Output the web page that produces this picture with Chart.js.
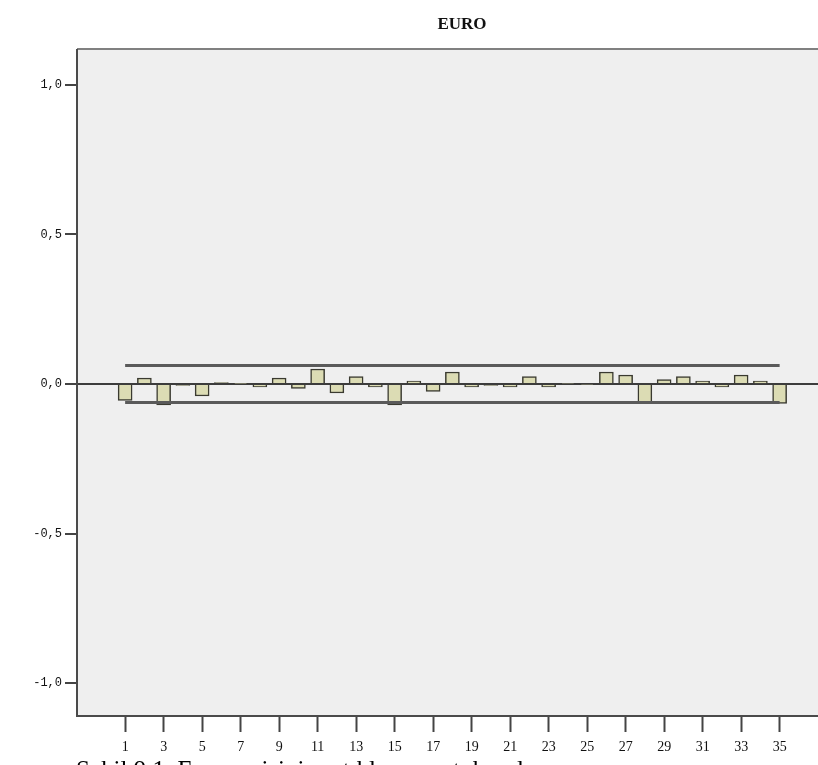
<!DOCTYPE html>
<html>
<head>
<meta charset="utf-8">
<script src="https://cdn.jsdelivr.net/npm/chart.js@4.4.1/dist/chart.umd.min.js"></script>
<style>
  html, body { margin: 0; padding: 0; background: #fff; overflow: hidden; }
  #wrap { position: relative; width: 818px; height: 765px; overflow: hidden; }
  #acf { position: absolute; left: 0; top: 0; }
  #caption {
    position: absolute; left: 76px; top: 757px;
    font: 25px "Liberation Serif", serif; line-height: 25px;
    white-space: nowrap; color: #000;
  }
</style>
</head>
<body>
<div id="wrap">
  <canvas id="acf" width="859" height="765"></canvas>
  <div id="caption">Şekil 9.1. Euro serisinin artıklarının otokorelasyonu</div>
</div>
<script>
// gecikmeler ve otokorelasyon katsayilari
const lags = [1, 2, 3, 4, 5, 6, 7, 8, 9, 10, 11, 12, 13, 14, 15, 16, 17, 18,
              19, 20, 21, 22, 23, 24, 25, 26, 27, 28, 29, 30, 31, 32, 33, 34, 35];
const acf = [-0.055, 0.02, -0.07, -0.005, -0.04, 0.005, 0.002, -0.01, 0.02, -0.015,
             0.05, -0.03, 0.025, -0.01, -0.07, 0.01, -0.025, 0.04, -0.01, -0.005,
             -0.01, 0.025, -0.01, 0.003, -0.003, 0.04, 0.03, -0.065, 0.015, 0.025,
             0.01, -0.01, 0.03, 0.01, -0.065];

// guven sinirlari (ilk ve son gecikme arasinda)
const limitLags = [1, 35];
const upperLimit = [0.062, 0.062];
const lowerLimit = [-0.062, -0.062];

// eksen etiketleri
const xTicks = [1, 3, 5, 7, 9, 11, 13, 15, 17, 19, 21, 23, 25, 27, 29, 31, 33, 35];
const yTicks = [-1, -0.5, 0, 0.5, 1];
const yTickLabels = ['-1,0', '-0,5', '0,0', '0,5', '1,0'];

// grafik alaninin zemini ve cercevesi
const plotFrame = {
  id: 'plotFrame',
  beforeDraw(chart) {
    const { ctx, chartArea: a } = chart;
    ctx.save();
    ctx.fillStyle = '#efefef';
    ctx.fillRect(a.left, a.top, a.right - a.left, a.bottom - a.top);
    ctx.restore();
  },
  afterDraw(chart) {
    const { ctx, chartArea: a } = chart;
    ctx.save();
    ctx.lineWidth = 2;
    ctx.strokeStyle = '#808080';
    ctx.beginPath();
    ctx.moveTo(a.left, a.top);
    ctx.lineTo(a.right, a.top);
    ctx.stroke();
    ctx.strokeStyle = '#4a4a4a';
    ctx.beginPath();
    ctx.moveTo(a.left, a.top);
    ctx.lineTo(a.left, a.bottom);
    ctx.lineTo(a.right, a.bottom);
    ctx.stroke();
    ctx.restore();
  }
};

const ctx = document.getElementById('acf').getContext('2d');
new Chart(ctx, {
  type: 'bar',
  data: {
    datasets: [
      {
        type: 'line',
        data: limitLags.map((l, i) => ({ x: l, y: upperLimit[i] })),
        borderColor: '#5a5a5a',
        borderWidth: 3,
        pointRadius: 0,
        order: 0
      },
      {
        type: 'line',
        data: limitLags.map((l, i) => ({ x: l, y: lowerLimit[i] })),
        borderColor: '#5a5a5a',
        borderWidth: 3,
        pointRadius: 0,
        order: 0
      },
      {
        type: 'bar',
        data: lags.map((l, i) => ({ x: l, y: acf[i] })),
        backgroundColor: '#dcdcb4',
        borderColor: '#3a3a30',
        borderWidth: 1.5,
        barThickness: 14,
        order: 1
      }
    ]
  },
  options: {
    responsive: false,
    animation: false,
    layout: { padding: { left: 0, right: 12, top: 0, bottom: 0 } },
    plugins: {
      legend: { display: false },
      tooltip: { enabled: false },
      title: {
        display: true,
        text: 'EURO',
        fullSize: false,
        color: '#111',
        font: { family: 'Liberation Serif', size: 17, weight: 'bold' },
        padding: { top: 14, bottom: 14.6 }
      }
    },
    scales: {
      x: {
        type: 'linear',
        offset: false,
        min: -1.5,
        max: 38.5,
        afterBuildTicks: s => { s.ticks = xTicks.map(v => ({ value: v })); },
        afterFit: s => { s.height = 49; },
        border: { display: false },
        grid: { offset: false, drawOnChartArea: false, tickLength: 16, color: '#444', tickWidth: 2 },
        ticks: {
          autoSkip: false,
          maxRotation: 0,
          padding: 7,
          color: '#111',
          font: { family: 'Liberation Serif', size: 14 },
          callback: v => String(v)
        }
      },
      y: {
        min: -1.11,
        max: 1.12,
        afterBuildTicks: s => { s.ticks = yTicks.map(v => ({ value: v })); },
        afterFit: s => { s.width = 77; },
        border: { display: false },
        grid: {
          drawOnChartArea: true,
          tickLength: 12,
          tickColor: '#444',
          tickWidth: 2,
          lineWidth: 2,
          color: c => (c.tick && c.tick.value === 0 ? '#3c3c3c' : 'rgba(0,0,0,0)')
        },
        ticks: {
          padding: 3,
          color: '#111',
          font: { family: 'Liberation Mono', size: 12 },
          callback: v => yTickLabels[yTicks.indexOf(v)]
        }
      }
    }
  },
  plugins: [plotFrame]
});
</script>
</body>
</html>
